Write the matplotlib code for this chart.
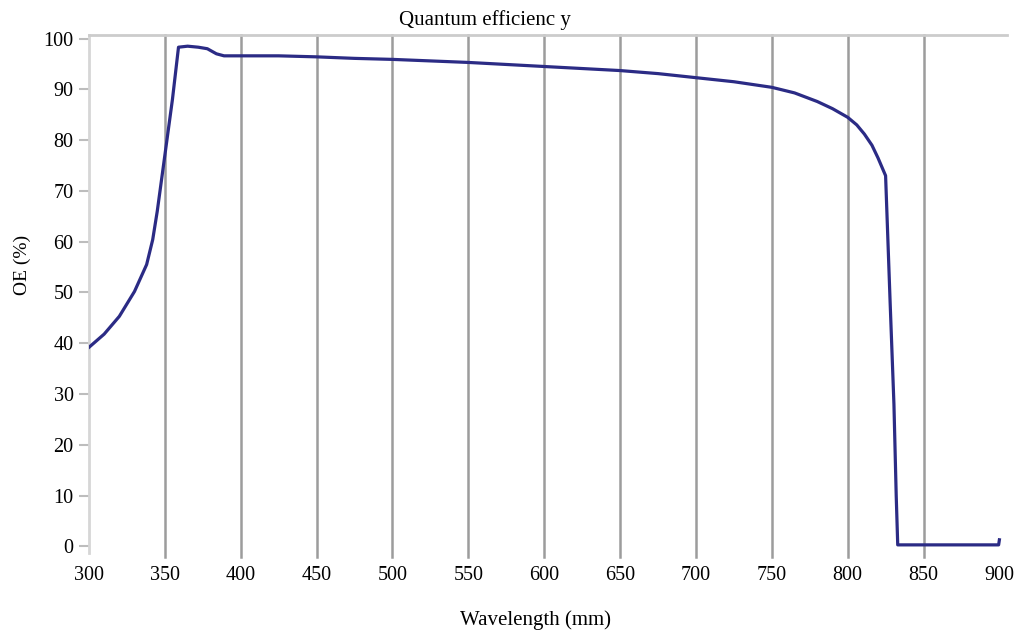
import matplotlib.pyplot as plt

# quantum efficiency curve (wavelength in nm, QE in %)
wavelength = [300, 310, 320, 330, 338, 342, 345, 350, 355, 359, 365, 372, 378,
              384, 389, 400, 425, 450, 475, 500, 525, 550, 575, 600, 625, 650,
              675, 700, 725, 750, 765, 780, 790, 800, 806, 811, 816, 820, 825,
              828, 830.5, 832, 833, 850, 880, 899.5, 900]
qe = [39.2, 41.8, 45.3, 50.2, 55.5, 60.4, 66.0, 77.0, 88.0, 98.3, 98.5, 98.3,
      98.0, 97.0, 96.6, 96.6, 96.6, 96.4, 96.1, 95.9, 95.6, 95.3, 94.9, 94.5,
      94.1, 93.7, 93.1, 92.3, 91.5, 90.4, 89.3, 87.6, 86.2, 84.5, 83.0, 81.2,
      79.0, 76.5, 73.0, 48.0, 28.0, 10.0, 0.3, 0.3, 0.3, 0.3, 1.3]

x_ticks = list(range(300, 901, 50))
y_ticks = list(range(0, 101, 10))

plt.rcParams['font.family'] = ['Liberation Serif', 'DejaVu Serif']

fig = plt.figure(figsize=(10.31, 6.32), dpi=100)
ax = fig.add_axes([0.0863, 0.125, 0.8904, 0.8196])

# vertical grid only
for xv in x_ticks[1:-1]:
    ax.axvline(xv, ymin=-0.008, color='#9c9c9c', lw=1.8, zorder=1,
               clip_on=False)

ax.plot(wavelength, qe, color='#2b2b85', lw=2.3, zorder=3,
        solid_joinstyle='round')

ax.set_xlim(300, 905)
ax.set_ylim(-1.3, 100.7)
ax.set_xticks(x_ticks)
ax.set_yticks(y_ticks)
ax.tick_params(axis='x', length=0, pad=9, labelsize=14.5)
ax.tick_params(axis='y', length=7, width=1.5, color='#bdbdbd', pad=4,
               labelsize=14.5)

for side in ['right', 'bottom']:
    ax.spines[side].set_visible(False)
ax.spines['top'].set_color('#cccccc')
ax.spines['top'].set_linewidth(2)
ax.spines['left'].set_color('#d6d6d6')
ax.spines['left'].set_linewidth(2)

fig.text(485 / 1031, 1 - 20 / 632, 'Quantum efficienc y', ha='center',
         va='center', fontsize=15)
fig.text(535 / 1031, 1 - 620 / 632, 'Wavelength (mm)', ha='center',
         va='center', fontsize=15)
fig.text(22 / 1031, 1 - 265 / 632, 'OE (%)', ha='center', va='center',
         rotation=90, fontsize=14)

fig.savefig('out.png', dpi=100)
